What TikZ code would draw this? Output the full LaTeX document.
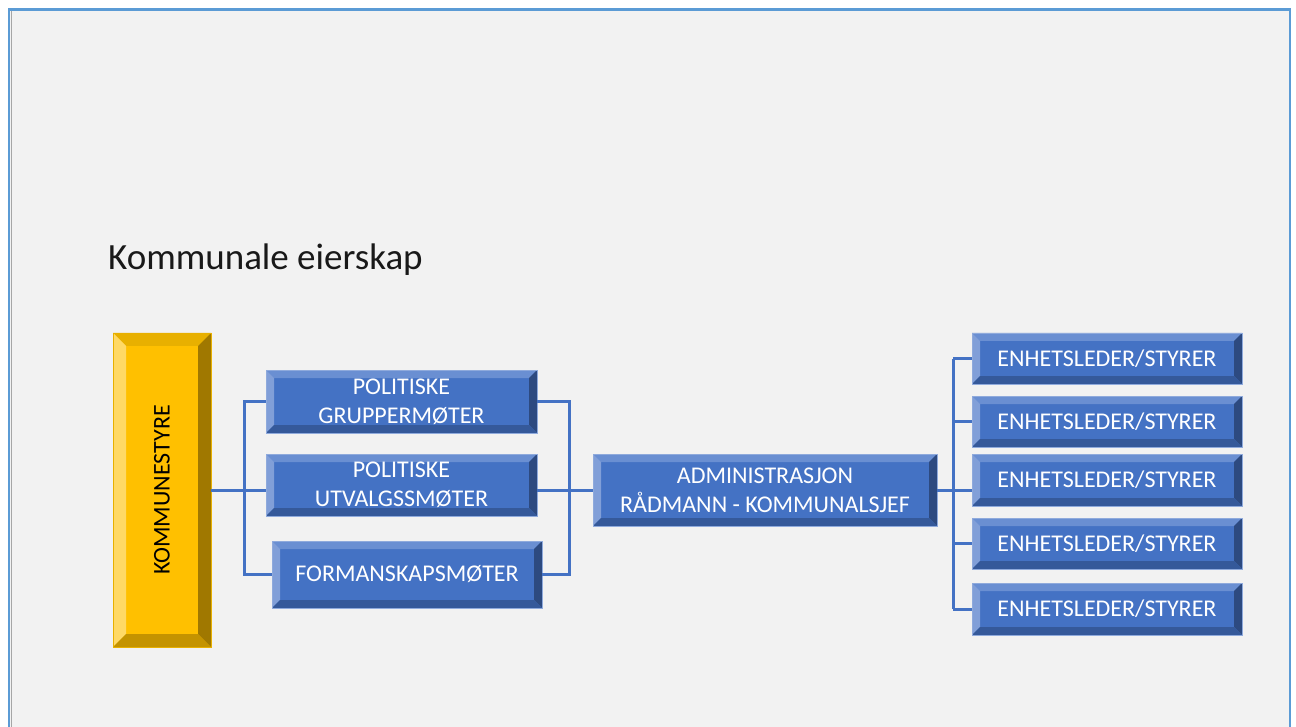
\documentclass[tikz,border=0pt]{standalone}
\usepackage{fontspec}
\setmainfont{Carlito}
\usetikzlibrary{calc}
\definecolor{pagebg}{HTML}{F2F2F2}
\definecolor{framec}{HTML}{5B9BD5}
\definecolor{linkc}{HTML}{4472C4}
% blue bevelled boxes
\definecolor{bface}{HTML}{4472C4}
\definecolor{btop}{HTML}{6A8FD2}
\definecolor{bleft}{HTML}{819FD8}
\definecolor{bright}{HTML}{2D4A80}
\definecolor{bbottom}{HTML}{35599A}
\definecolor{bedge}{HTML}{8FAADC}
% gold bevelled box
\definecolor{gface}{HTML}{FFC000}
\definecolor{gtop}{HTML}{E8B000}
\definecolor{gleft}{HTML}{FFD966}
\definecolor{gright}{HTML}{A07800}
\definecolor{gbottom}{HTML}{C49300}
\tikzset{
  % bevel: #1 width, #2 top, #3 left, #4 right, #5 bottom
  bevel/.style n args={5}{path picture={
    \coordinate (pnw) at (path picture bounding box.north west);
    \coordinate (pne) at (path picture bounding box.north east);
    \coordinate (psw) at (path picture bounding box.south west);
    \coordinate (pse) at (path picture bounding box.south east);
    \fill[#2] (pnw) -- (pne) -- ($(pne)+(-#1pt,-#1pt)$) -- ($(pnw)+(#1pt,-#1pt)$) -- cycle;
    \fill[#3] (pnw) -- ($(pnw)+(#1pt,-#1pt)$) -- ($(psw)+(#1pt,#1pt)$) -- (psw) -- cycle;
    \fill[#4] (pne) -- ($(pne)+(-#1pt,-#1pt)$) -- ($(pse)+(-#1pt,#1pt)$) -- (pse) -- cycle;
    \fill[#5] (psw) -- ($(psw)+(#1pt,#1pt)$) -- ($(pse)+(-#1pt,#1pt)$) -- (pse) -- cycle;
  }},
  bluebox/.style={draw=bedge, line width=0.8pt, fill=bface, inner sep=0pt,
    bevel={8}{btop}{bleft}{bright}{bbottom},
    text=white, align=center, font=\fontsize{24}{29}\selectfont},
  goldbox/.style={draw=gtop, line width=0.8pt, fill=gface, inner sep=0pt,
    bevel={13}{gtop}{gleft}{gright}{gbottom}},
  link/.style={draw=linkc, line width=3pt},
}
\begin{document}
\begin{tikzpicture}[x=1pt,y=-1pt]
  \useasboundingbox (0,0) rectangle (1296,727);
  \fill[white] (0,0) rectangle (1296,727);
  % slide area with its blue frame
  \fill[pagebg] (9,9.5) rectangle (1290,740);
  \draw[black!35, line width=1pt] (11,11) -- (11,740);
  \draw[framec, line width=2.5pt] (9,740) -- (9,9.5) -- (1290,9.5) -- (1290,740);

  \node[anchor=base west, font=\fontsize{37}{40}\selectfont, text=black!90, inner sep=0pt]
    (title) at (108,270) {Kommunale eierskap};

  % council
  \node[goldbox, minimum width=98pt, minimum height=314pt] (kom) at (162,490) {};
  \node[rotate=90, font=\fontsize{24}{29}\selectfont, text=black, inner sep=0pt]
    (komtxt) at (kom.center) {KOMMUNESTYRE};

  % political meetings
  \node[bluebox, minimum width=271pt, minimum height=63pt] (grp) at (401.5,401.5)
    {POLITISKE\\GRUPPERMØTER};
  \node[bluebox, minimum width=271pt, minimum height=62pt] (utv) at (401.5,485)
    {POLITISKE\\UTVALGSSMØTER};
  \node[bluebox, minimum width=270pt, minimum height=67pt] (frm) at (407,574.5)
    {FORMANSKAPSMØTER};

  % administration
  \node[bluebox, minimum width=344pt, minimum height=72pt] (adm) at (765,490)
    {ADMINISTRASJON\\RÅDMANN - KOMMUNALSJEF};

  % units
  \node[bluebox, minimum width=270pt, minimum height=51pt] (e1) at (1107,358.5) {ENHETSLEDER/STYRER};
  \node[bluebox, minimum width=270pt, minimum height=51pt] (e2) at (1107,421.5) {ENHETSLEDER/STYRER};
  \node[bluebox, minimum width=270pt, minimum height=52pt] (e3) at (1107,480) {ENHETSLEDER/STYRER};
  \node[bluebox, minimum width=270pt, minimum height=51pt] (e4) at (1107,543.5) {ENHETSLEDER/STYRER};
  \node[bluebox, minimum width=270pt, minimum height=52pt] (e5) at (1107,609) {ENHETSLEDER/STYRER};

  % bracket columns
  \coordinate (lb) at (244,0);
  \coordinate (rb) at (569,0);
  \coordinate (rc) at (953,0);

  % connectors
  \draw[link] (kom.east) -- (kom.east -| utv.west);
  \draw[link] (grp.west) -- (grp.west -| lb) -- (frm.west -| lb) -- (frm.west);
  \draw[link] (grp.east) -- (grp.east -| rb) -- (frm.east -| rb) -- (frm.east);
  \draw[link] (adm.west -| utv.east) -- (adm.west);
  \draw[link] (adm.east) -- (adm.east -| e3.west);
  \draw[link] (e1.west -| rc) -- (e5.west -| rc);
  \foreach \e in {e1,e2,e4,e5}{
    \draw[link] (\e.west -| rc) -- (\e.west);
  }
\end{tikzpicture}
\end{document}
